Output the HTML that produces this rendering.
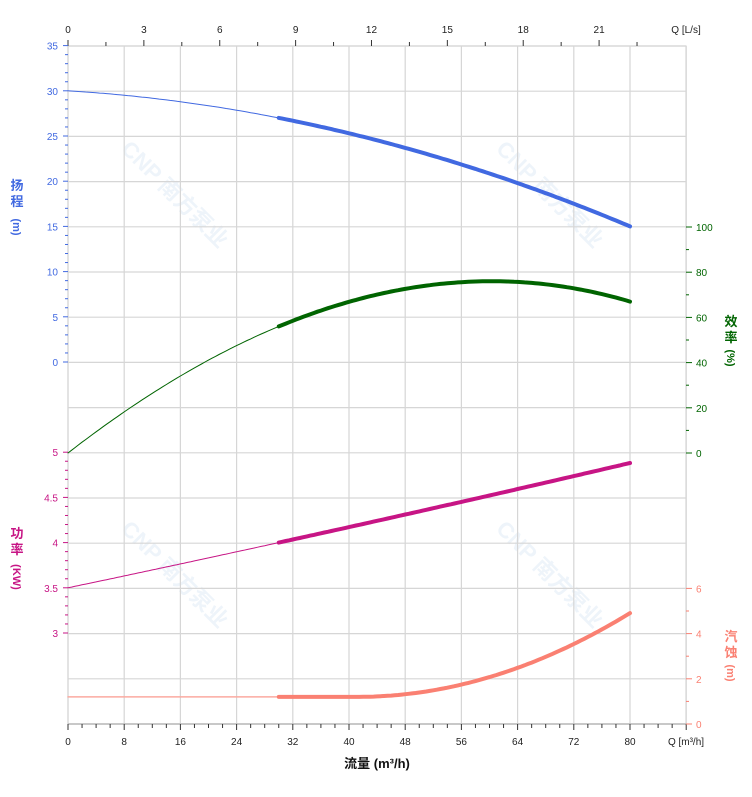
<!DOCTYPE html>
<html><head><meta charset="utf-8"><style>
html,body{margin:0;padding:0;background:#fff;}
svg{display:block;font-family:"Liberation Sans","Noto Sans CJK SC",sans-serif;}
</style></head><body>
<svg width="752" height="797" viewBox="0 0 752 797" xmlns="http://www.w3.org/2000/svg">
<g id="wm" fill="#eef4fa" font-size="22" font-weight="bold">
<text transform="translate(120,150) rotate(45)">CNP 南方泵业</text>
<text transform="translate(495,150) rotate(45)">CNP 南方泵业</text>
<text transform="translate(120,530) rotate(45)">CNP 南方泵业</text>
<text transform="translate(495,530) rotate(45)">CNP 南方泵业</text>
</g>
<g id="grid" stroke="#d6d6d6" stroke-width="1.2"></g>
<g id="ax"></g>
<g id="curves" fill="none"></g>
<script>
var NS="http://www.w3.org/2000/svg";
function el(p,t,a,txt){var e=document.createElementNS(NS,t);for(var k in a)e.setAttribute(k,a[k]);if(txt!==undefined)e.textContent=txt;document.getElementById(p).appendChild(e);return e;}
var X0=68,PX=7.025,T=46,B=724,R=686;
function X(q){return X0+q*PX;}
for(var i=0;i<=11;i++){var x=X(i*8);el('grid','line',{x1:x,y1:T,x2:x,y2:B});}
for(var j=0;j<=15;j++){var y=T+j*45.2;el('grid','line',{x1:X0,y1:y,x2:R,y2:y});}
el('grid','rect',{x:X0,y:T,width:R-X0,height:B-T,fill:'none'});
el('ax','line',{x1:X0,y1:B,x2:R,y2:B,stroke:'#bbb','stroke-width':1.5});
for(var q=0;q<=88;q+=2){var big=q%8==0;el('ax','line',{x1:X(q),y1:B,x2:X(q),y2:B+(big?6:4),stroke:'#333','stroke-width':1});}
for(var q=0;q<=80;q+=8)el('ax','text',{x:X(q),y:745,'font-size':10,'text-anchor':'middle',fill:'#222'},q);
el('ax','text',{x:686,y:745,'font-size':10,'text-anchor':'middle',fill:'#222'},'Q [m³/h]');
el('ax','text',{x:377,y:768,'font-size':13,'font-weight':'bold','text-anchor':'middle',fill:'#111'},'流量 (m³/h)');
for(var l=0;l<=22.5;l+=1.5){var x=X(l*3.6);var big=Math.abs(l%3)<0.01;el('ax','line',{x1:x,y1:T,x2:x,y2:T-(big?6:4),stroke:'#333','stroke-width':1});}
for(var l=0;l<=21;l+=3)el('ax','text',{x:X(l*3.6),y:33,'font-size':10,'text-anchor':'middle',fill:'#222'},l);
el('ax','text',{x:686,y:33,'font-size':10,'text-anchor':'middle',fill:'#222'},'Q [L/s]');
for(var h=0;h<=35;h++){var y=362-h*9.04;el('ax','line',{x1:X0,y1:y,x2:X0-(h%5==0?5:3),y2:y,stroke:'#4169e1'});}
for(var h=0;h<=35;h+=5)el('ax','text',{x:58,y:362-h*9.04+4,'font-size':10,'text-anchor':'end',fill:'#4169e1'},h);
for(var p=3;p<=5.001;p+=0.1){var y=633-(p-3)*90.4;var big=Math.abs(p*2-Math.round(p*2))<0.01;el('ax','line',{x1:X0,y1:y,x2:X0-(big?5:3),y2:y,stroke:'#c71585'});}
['3','3.5','4','4.5','5'].forEach(function(s){var y=633-(parseFloat(s)-3)*90.4;el('ax','text',{x:58,y:y+4,'font-size':10,'text-anchor':'end',fill:'#c71585'},s);});
for(var e=0;e<=100;e+=10){var y=453-e*2.26;el('ax','line',{x1:R,y1:y,x2:R+(e%20==0?6:3),y2:y,stroke:'#006400'});}
for(var e=0;e<=100;e+=20)el('ax','text',{x:696,y:453-e*2.26+4,'font-size':10,fill:'#006400'},e);
for(var n=0;n<=6;n++){var y=724-n*22.6;el('ax','line',{x1:R,y1:y,x2:R+(n%2==0?6:3),y2:y,stroke:'#fa8072'});}
for(var n=0;n<=6;n+=2)el('ax','text',{x:696,y:724-n*22.6+4,'font-size':10,fill:'#fa8072'},n);
function vt(x,y,c,a,b){el('ax','text',{x:x,y:y,'font-size':13,'font-weight':'bold','text-anchor':'middle',fill:c},a);el('ax','text',{x:x,y:y+16,'font-size':13,'font-weight':'bold','text-anchor':'middle',fill:c},b);}
vt(17,190,'#4169e1','扬','程');vt(731,326,'#006400','效','率');vt(17,538,'#c71585','功','率');vt(731,641,'#fa8072','汽','蚀');
function vp(x,y,c,s){el('ax','text',{x:0,y:0,'font-size':11,'font-weight':'bold','text-anchor':'middle',fill:c,transform:'translate('+(x-4)+','+y+') rotate(90)'},s);}
vp(17,227,'#4169e1','(m)');vp(731,358,'#006400','(%)');vp(17,577,'#c71585','(KW)');vp(731,673,'#fa8072','(m)');
function path(f,a,b,col,w){var d='';for(var q=a;q<=b+1e-6;q+=0.5){d+=(q==a?'M':'L')+X(q).toFixed(1)+','+f(q).toFixed(1);}el('curves','path',{d:d,stroke:col,'stroke-width':w,'stroke-linecap':'round'});}
var H=function(q){return 362-(30-0.0475*q-0.00175*q*q)*9.04;};
var E=function(q){return 453-(2.414*q-0.01737*q*q-2.92e-5*q*q*q)*2.26;};
var P=function(q){return 633-(0.5+0.01632*q+1.17e-5*q*q)*90.4;};
var N=function(q){var v=1.2;if(q>41.1)v+=0.00245*(q-41.1)*(q-41.1);return 724-v*22.6;};
path(H,0,30,'#4169e1',1);path(H,30,80,'#4169e1',4);
path(E,0,30,'#006400',1);path(E,30,80,'#006400',4);
path(P,0,30,'#c71585',1);path(P,30,80,'#c71585',4);
path(N,0,30,'#fbaaa0',1.5);path(N,30,80,'#fa8072',4);
</script>
</svg>
</body></html>
